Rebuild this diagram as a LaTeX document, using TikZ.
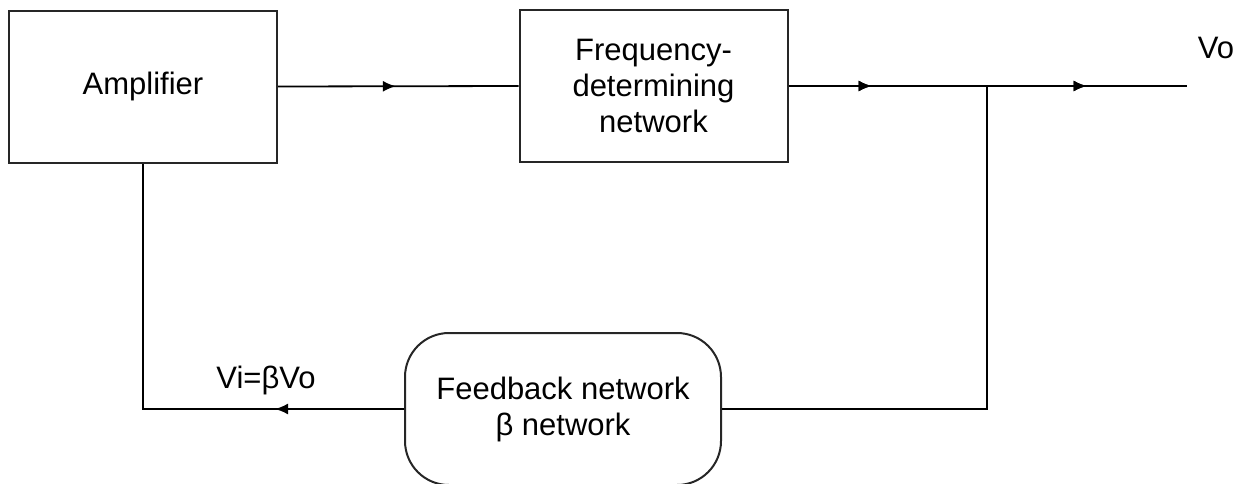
\documentclass[tikz,border=0pt]{standalone}
\usepackage{fontspec}
\setmainfont{Liberation Sans}
\usetikzlibrary{arrows.meta,decorations.markings}
\tikzset{
  blockbox/.style={draw=black!85, line width=1pt, minimum width=134pt, minimum height=76pt, align=center, font=\fontsize{15.5}{18}\selectfont, inner sep=0pt},
  roundbox/.style={draw=black!85, line width=1pt, rounded corners=22pt, minimum width=158pt, minimum height=76pt, align=center, font=\fontsize{15.5}{18}\selectfont, inner sep=0pt},
  wire/.style={line width=0.9pt, black},
  lbl/.style={font=\fontsize{15.5}{18}\selectfont, inner sep=0pt},
  midtip/.style={postaction={decorate}, decoration={markings, mark=at position #1 with {\arrow{Latex[length=6.5pt,width=5.5pt]}}}}
}
\begin{document}
\begin{tikzpicture}[x=0.5pt,y=-0.5pt]
\useasboundingbox (0,0) rectangle (1244,483);
\node[blockbox] (amp) at (143,86.5) {Amplifier};
\node[blockbox] (freq) at (653.5,86) {Frequency-\\determining\\network};
\node[roundbox] (fb) at (563,409) {Feedback network\\β network};
\coordinate (j) at (987,86);
\coordinate (vo) at (1187,86);
\node[lbl] (volbl) at (1216,48) {Vo};
\node[lbl] (vilbl) at (266,380) {Vi=βVo};
\draw[wire, midtip=0.49] (amp.east) -- (freq.west);
\draw[wire, midtip=41.5pt, midtip=149pt] (freq.east) -- (vo);
\draw[wire] (j) |- (fb.east);
\draw[wire, midtip=64.5pt] (fb.west) -| (amp.south);
\end{tikzpicture}
\end{document}
